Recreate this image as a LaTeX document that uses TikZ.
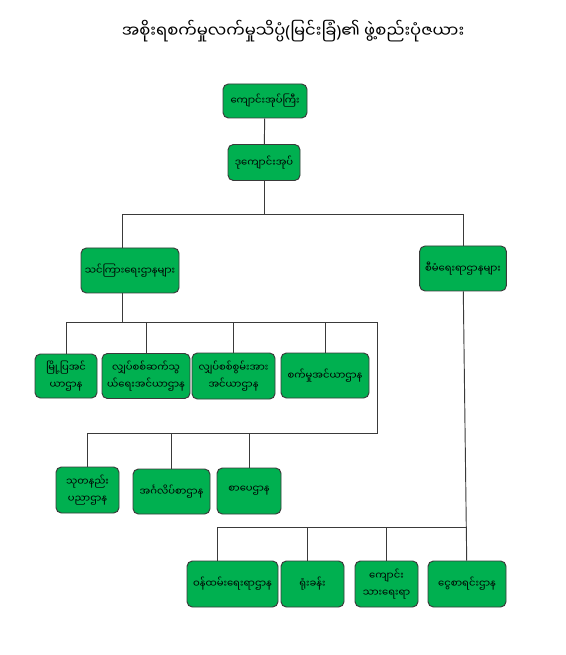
\documentclass[tikz,border=0pt]{standalone}
\usepackage{fontspec}
\newfontfamily\mmfont[Script=Myanmar]{Noto Sans Myanmar UI}
\newfontfamily\parfont{Noto Sans}
\usetikzlibrary{positioning}

\definecolor{boxgreen}{HTML}{00B050}
\definecolor{edge}{HTML}{3A3A3A}

\begin{document}
\begin{tikzpicture}[x=0.75pt,y=-0.75pt]
  \tikzstyle{box}=[draw=edge,fill=boxgreen,rounded corners=4pt,line width=0.7pt,inner sep=1pt,align=center,font=\mmfont\fontsize{7.5}{13}\selectfont]
  \tikzstyle{link}=[draw=edge,line width=0.7pt]
  \useasboundingbox (0,0) rectangle (565,655);
  \node[font=\mmfont\fontsize{12.3}{16}\selectfont] (title) at (293,31) {အစိုးရစက်မှုလက်မှုသိပ္ပံ{\parfont(}မြင်းခြံ{\parfont)}၏ ဖွဲ့စည်းပုံဇယား};
  % head of school
  \node[box,minimum width=63pt,minimum height=25.5pt] (head) at (265,101) {ကျောင်းအုပ်ကြီး};
  \node[box,minimum width=54pt,minimum height=27pt] (dephead) at (264,162.5) {ဒုကျောင်းအုပ်};
  \node[box,minimum width=73.5pt,minimum height=33.75pt] (teach) at (130,270.5) {သင်ကြားရေးဌာနများ};
  \node[box,minimum width=65pt,minimum height=33.75pt] (admin) at (463,268.5) {စီမံရေးရာဌာနများ};
  % teaching departments
  \node[box,minimum width=46.5pt,minimum height=33pt] (civil) at (66,376) {မြို့ပြအင်\\ယာဌာန};
  \node[box,minimum width=66pt,minimum height=33.75pt] (ec) at (146,376) {လျှပ်စစ်ဆက်သွ\\ယ်ရေးအင်ယာဌာန};
  \node[box,minimum width=62.25pt,minimum height=34.5pt] (ep) at (233.5,376) {လျှပ်စစ်စွမ်းအား\\အင်ယာဌာန};
  \node[box,minimum width=66pt,minimum height=33.75pt] (mech) at (325,375.5) {စက်မှုအင်ယာဌာန};
  \node[box,minimum width=47.25pt,minimum height=34.5pt] (it) at (87.5,490) {သုတနည်း\\ပညာဌာန};
  \node[box,minimum width=57.75pt,minimum height=33.75pt] (eng) at (171.5,491.5) {အင်္ဂလိပ်စာဌာန};
  \node[box,minimum width=48pt,minimum height=34.5pt] (lit) at (249,491) {စာပေဌာန};
  % admin departments
  \node[box,minimum width=68.25pt,minimum height=34.5pt] (staff) at (232.5,584) {ဝန်ထမ်းရေးရာဌာန};
  \node[box,minimum width=47.25pt,minimum height=34.5pt] (office) at (312.5,584) {ရုံးခန်း};
  \node[box,minimum width=47.25pt,minimum height=34.5pt] (student) at (386.5,584) {ကျောင်း\\သားရေးရာ};
  \node[box,minimum width=58.5pt,minimum height=34.5pt] (acct) at (467,584) {ငွေစာရင်းဌာန};
  % joints
  \coordinate (j1) at (264,214);
  \coordinate (j2) at (122,322);
  \coordinate (j3) at (377,322);
  \coordinate (j4) at (377,433);
  \coordinate (j5) at (466,527);
  % connectors
  \draw[link] (head) -- (dephead);
  \draw[link] (dephead) -- (j1);
  \draw[link] ([xshift=-6pt]teach.north) |- (admin.north |- j1) -- (admin.north);
  \draw[link] ([xshift=-6pt]teach.south) -- (j2);
  \draw[link] (civil.north) |- (j3) |- (it.north |- j4) -- (it.north);
  \foreach \n in {ec,ep,mech}
    \draw[link] (\n.north) -- (\n.north |- j2);
  \foreach \n in {eng,lit}
    \draw[link] (\n.north) -- (\n.north |- j4);
  \draw[link] (admin) -- (acct);
  \draw[link] ([xshift=-11pt]staff.north) |- (j5);
  \draw[link] ([xshift=-4pt]office.north) -- ([xshift=-4pt]office.north |- j5);
  \draw[link] (student.north) -- (student.north |- j5);
\end{tikzpicture}
\end{document}
